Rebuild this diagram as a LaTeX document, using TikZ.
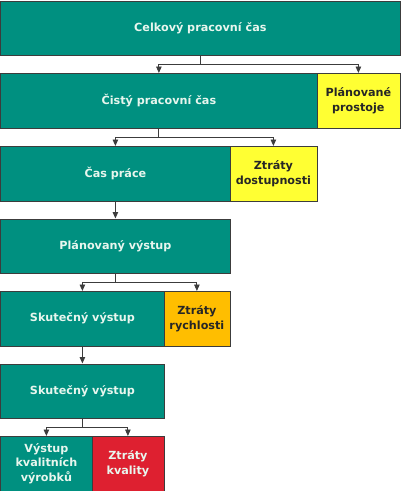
\documentclass[tikz,border=0pt]{standalone}
\usepackage{fontspec}
\setmainfont{DejaVu Sans}
\usepackage{xcolor}
\usetikzlibrary{arrows.meta,positioning}

\definecolor{tealbox}{RGB}{0,144,128}
\definecolor{yellowbox}{RGB}{255,255,51}
\definecolor{orangebox}{RGB}{255,190,0}
\definecolor{redbox}{RGB}{222,32,48}
\definecolor{edge}{RGB}{60,60,60}
\definecolor{lighttext}{RGB}{232,246,238}

\begin{document}
\begin{tikzpicture}[
  x=1pt,y=1pt,
  block/.style={draw=edge, line width=0.8pt, anchor=north west, inner sep=0pt,
    minimum height=54.5pt, align=center, font=\bfseries\fontsize{11.2}{15.5}\selectfont},
  flow/.style={fill=tealbox, text=lighttext},
  loss/.style={fill=yellowbox, text=black!85},
  slow/.style={fill=orangebox, text=black!85},
  scrap/.style={fill=redbox, text=lighttext},
  link/.style={draw=edge, line width=0.9pt},
  >={Triangle[width=5.5pt,length=6.5pt]}
]
\useasboundingbox (0,0) rectangle (400,-491);

\node[block,flow,minimum width=399pt] (total) at (0.5,-0.5) {Celkový pracovní čas};
\node[block,flow,minimum width=316pt] (net) at (0.5,-73) {Čistý pracovní čas};
\node[block,loss,minimum width=83pt] (plan) at (316.5,-73) {Plánované\\prostoje};
\node[block,flow,minimum width=229pt] (work) at (0.5,-146) {Čas práce};
\node[block,loss,minimum width=87pt] (avail) at (229.5,-146) {Ztráty\\dostupnosti};
\node[block,flow,minimum width=229pt] (planout) at (0.5,-218.5) {Plánovaný výstup};
\node[block,flow,minimum width=163pt] (real) at (0.5,-291) {Skutečný výstup};
\node[block,slow,minimum width=66pt] (speed) at (163.5,-291) {Ztráty\\rychlosti};
\node[block,flow,minimum width=163pt] (real2) at (0.5,-363.5) {Skutečný výstup};
\node[block,flow,minimum width=91pt,font=\bfseries\fontsize{11.2}{14.8}\selectfont] (good) at (0.5,-436) {Výstup\\kvalitních\\výrobků};
\node[block,scrap,minimum width=72pt] (quality) at (91.5,-436) {Ztráty\\kvality};

\coordinate[below=9pt of total] (s1);
\coordinate[below=9pt of net] (s2);
\coordinate[below=9pt of planout] (s4);
\coordinate[below=9pt of real2] (s6);

\draw[link] (total) -- (s1);
\draw[link,->] (s1) -| (net);
\draw[link,->] (s1) -| (plan);
\draw[link] (net) -- (s2);
\draw[link,->] (s2) -| (work);
\draw[link,->] (s2) -| (avail);
\draw[link,->] (work) -- (planout);
\draw[link] (planout) -- (s4);
\draw[link,->] (s4) -| (real);
\draw[link,->] (s4) -| (speed);
\draw[link,->] (real) -- (real2);
\draw[link] (real2) -- (s6);
\draw[link,->] (s6) -| (good);
\draw[link,->] (s6) -| (quality);
\end{tikzpicture}
\end{document}
